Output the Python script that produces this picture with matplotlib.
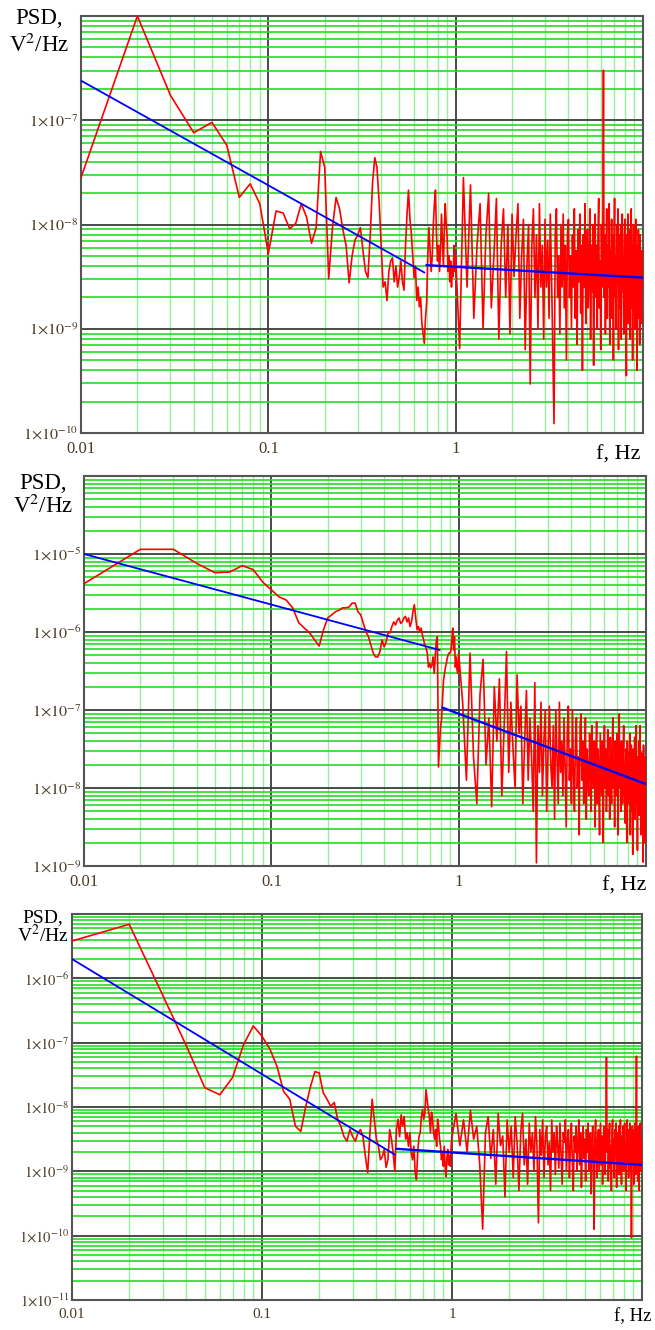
import numpy as np
import matplotlib
matplotlib.use("Agg")
import matplotlib.pyplot as plt
from matplotlib.ticker import FixedLocator, LogLocator, FuncFormatter, NullFormatter

plt.rcParams['font.family'] = ['Liberation Serif', 'DejaVu Serif']
plt.rcParams['mathtext.fontset'] = 'stix'

# frequency grid: 0.01..1.00 Hz step 0.01, then 1.05..10 Hz step 0.05
f_low = np.arange(1, 101) * 0.01
f_high = 1.0 + np.arange(1, 181) * 0.05

# log10(PSD), panel 1
p1_low = [-7.55, -6.00, -6.76, -7.12, -7.02, -7.24, -7.74, -7.61, -7.80, -8.28,
          -7.87, -7.89, -8.04, -7.99, -7.80, -7.93, -8.18, -8.03, -7.30, -7.45,
          -8.52, -8.03, -7.74, -7.85, -8.05, -8.20, -8.56, -8.30, -8.15, -8.10,
          -8.03, -8.25, -8.45, -8.51, -8.10, -7.60, -7.36, -7.45, -7.77, -8.20,
          -8.60, -8.55, -8.73, -8.45, -8.35, -8.32, -8.55, -8.40, -8.60, -8.50,
          -8.35, -8.55, -8.63, -8.20, -7.90, -7.67, -7.95, -8.09, -8.30, -8.51,
          -8.40, -8.73, -8.60, -8.79, -8.70, -8.95, -9.05, -9.14, -8.90, -8.75,
          -8.30, -8.03, -8.25, -8.45, -8.30, -8.00, -7.80, -7.67, -8.10, -8.35,
          -8.20, -8.45, -8.25, -7.90, -8.15, -8.40, -8.05, -7.80, -8.00, -8.10,
          -8.45, -8.30, -8.55, -8.35, -8.60, -8.40, -8.50, -8.20, -8.45, -8.30]
p1_high = [-9.19, -7.55, -8.60, -7.62, -8.90, -8.20, -7.80, -9.00, -8.10, -7.70,
           -8.80, -8.30, -7.75, -9.10, -8.20, -7.85, -8.70, -8.00, -9.05, -7.90,
           -8.50, -8.10, -7.80, -8.90, -8.30, -7.95, -9.20, -8.40, -8.00, -9.53,
           -8.20, -7.85, -8.70, -8.10, -9.00, -7.80, -8.60, -8.20, -9.10, -7.95,
           -8.60, -8.15, -8.90, -7.90, -8.50, -9.20, -9.91, -8.10, -7.85, -8.70,
           -8.30, -9.05, -8.00, -8.60, -7.90, -8.80, -8.20, -9.30, -8.10, -7.95,
           -8.70, -8.30, -9.00, -8.10, -8.60, -7.85, -8.90, -8.25, -9.15, -8.05,
           -8.55, -7.90, -8.85, -8.20, -9.40, -8.10, -8.60, -7.80, -8.95, -8.30,
           -8.05, -8.80, -8.40, -7.85, -9.10, -8.20, -8.65, -8.00, -9.35, -8.30,
           -7.90, -8.70, -8.20, -9.00, -8.10, -7.75, -8.80, -8.35, -9.20, -8.00,
           -8.60, -8.20, -6.52, -8.70, -8.10, -9.05, -8.30, -7.85, -8.90, -8.20,
           -8.60, -7.80, -9.15, -8.25, -8.55, -7.95, -8.90, -8.10, -9.30, -8.20,
           -7.75, -8.70, -8.30, -9.00, -8.00, -8.55, -7.85, -9.20, -8.35, -8.10,
           -8.80, -8.00, -9.10, -8.25, -7.90, -8.65, -8.40, -9.05, -8.15, -7.95,
           -8.85, -8.30, -9.45, -8.10, -8.60, -7.90, -8.95, -8.25, -8.55, -8.05,
           -9.10, -8.35, -7.85, -8.80, -8.20, -9.30, -8.40, -8.00, -8.75, -8.30,
           -9.00, -8.15, -7.95, -8.70, -8.35, -9.40, -8.20, -8.60, -8.05, -8.90,
           -8.30, -9.15, -8.10, -8.70, -8.40, -8.95, -8.25, -8.60, -8.45, -8.55]

# panel 2
p2_low = [-5.38, -4.94, -4.94, -5.12, -5.24, -5.23, -5.15, -5.20, -5.36, -5.46,
          -5.55, -5.59, -5.69, -5.88, -5.95, -6.01, -6.10, -6.18, -5.97, -5.82,
          -5.78, -5.74, -5.72, -5.69, -5.69, -5.68, -5.63, -5.63, -5.74, -5.78,
          -5.89, -6.00, -6.06, -6.17, -6.27, -6.32, -6.32, -6.25, -6.10, -6.19,
          -6.13, -6.01, -6.01, -5.93, -5.87, -5.91, -5.85, -5.82, -5.89, -5.87,
          -5.82, -5.80, -5.87, -5.82, -5.93, -5.87, -5.74, -5.65, -5.82, -5.97,
          -5.93, -6.00, -5.95, -6.04, -6.10, -6.17, -6.21, -6.27, -6.45, -6.40,
          -6.46, -6.42, -6.32, -6.53, -6.32, -6.10, -6.06, -7.73, -7.47, -7.22,
          -7.13, -6.87, -6.62, -6.53, -6.45, -6.40, -6.33, -6.29, -6.27, -6.27,
          -6.23, -6.10, -5.95, -6.23, -6.06, -6.45, -6.32, -6.49, -6.53, -6.27]
p2_high = [-6.90, -7.90, -6.27, -7.60, -8.20, -6.80, -6.35, -7.70, -7.10, -8.24,
           -6.70, -7.40, -6.60, -8.10, -7.20, -6.25, -7.80, -6.90, -7.50, -8.00,
           -6.55, -7.30, -6.95, -8.20, -7.40, -6.75, -7.90, -7.10, -7.60, -8.30,
           -6.65, -8.96, -7.20, -7.80, -6.90, -8.10, -7.40, -7.00, -8.30, -7.50,
           -6.95, -7.70, -8.00, -7.20, -8.40, -7.00, -7.60, -8.20, -6.90, -7.80,
           -7.40, -8.10, -7.10, -7.70, -8.50, -7.30, -6.95, -7.90, -7.50, -8.20,
           -7.00, -7.80, -8.30, -7.40, -7.10, -8.00, -7.60, -8.60, -7.20, -7.05,
           -7.90, -7.40, -8.20, -7.60, -7.10, -8.40, -7.50, -7.90, -8.10, -7.30,
           -7.70, -8.30, -7.20, -7.80, -8.00, -7.40, -8.50, -7.60, -7.15, -8.20,
           -7.50, -7.90, -8.60, -7.30, -7.70, -8.10, -7.40, -8.70, -7.60, -7.20,
           -8.00, -7.50, -8.30, -7.70, -7.25, -8.10, -7.60, -8.40, -7.35, -7.90,
           -8.20, -7.50, -7.10, -8.00, -7.70, -8.50, -7.40, -7.90, -8.10, -7.30,
           -7.80, -8.60, -7.50, -7.05, -8.00, -7.70, -8.30, -7.40, -7.90, -8.20,
           -7.60, -7.20, -8.10, -7.80, -8.45, -7.50, -7.95, -8.70, -7.40, -7.75,
           -8.20, -7.55, -8.00, -7.30, -8.60, -7.80, -7.45, -8.30, -7.90, -8.85,
           -7.50, -7.70, -8.10, -7.35, -8.40, -7.85, -7.20, -8.20, -7.60, -8.80,
           -7.70, -8.00, -7.40, -8.35, -7.80, -7.20, -8.10, -8.60, -7.55, -7.90,
           -8.40, -7.65, -8.95, -7.45, -8.10, -7.80, -8.70, -7.60, -8.30, -8.50]

# panel 3
p3_low = [-5.42, -5.16, -6.26, -7.05, -7.70, -7.81, -7.54, -7.03, -6.74, -6.90,
          -7.10, -7.37, -7.76, -7.88, -8.30, -8.38, -7.99, -7.68, -7.45, -7.47,
          -7.78, -7.88, -7.99, -7.93, -8.19, -8.30, -8.46, -8.53, -8.35, -8.46,
          -8.53, -8.40, -8.35, -8.46, -8.77, -9.02, -8.40, -7.88, -8.19, -8.50,
          -8.61, -8.82, -8.77, -8.66, -8.94, -8.82, -8.35, -8.50, -8.71, -9.00,
          -8.35, -8.19, -8.46, -8.12, -8.30, -8.15, -8.50, -8.40, -8.61, -8.40,
          -8.71, -8.82, -8.61, -9.02, -9.13, -8.71, -8.46, -8.40, -8.15, -8.04,
          -8.19, -8.08, -7.73, -7.88, -8.04, -8.15, -8.40, -8.08, -8.19, -8.40,
          -8.50, -8.35, -8.61, -8.19, -8.30, -8.50, -8.61, -8.82, -8.71, -8.92,
          -8.61, -8.92, -9.08, -8.80, -8.66, -8.90, -8.75, -8.92, -8.60, -8.46]
p3_high = [-8.10, -8.60, -8.20, -8.70, -8.05, -8.50, -8.30, -8.90, -9.90, -8.40,
           -8.15, -8.80, -8.35, -9.20, -8.10, -8.60, -8.45, -9.40, -8.20, -8.70,
           -8.30, -9.10, -8.15, -8.55, -9.30, -8.40, -8.10, -8.90, -8.50, -9.20,
           -8.25, -8.70, -8.40, -9.00, -8.15, -8.60, -9.80, -8.35, -8.75, -8.20,
           -9.10, -8.45, -8.30, -8.90, -8.55, -9.30, -8.20, -8.70, -8.40, -9.05,
           -8.30, -8.60, -8.95, -8.25, -8.75, -9.20, -8.40, -8.55, -8.20, -9.00,
           -8.50, -8.35, -9.10, -8.60, -8.25, -8.85, -9.30, -8.45, -8.70, -8.30,
           -9.00, -8.55, -8.20, -8.90, -8.40, -9.25, -8.60, -8.30, -8.80, -8.50,
           -9.15, -8.35, -8.70, -8.25, -9.00, -8.55, -8.40, -9.35, -8.60, -8.30,
           -8.85, -9.90, -8.45, -8.20, -8.75, -9.10, -8.50, -8.35, -9.00, -8.60,
           -8.25, -8.90, -8.45, -9.20, -8.60, -8.30, -8.80, -9.05, -8.40, -7.23,
           -8.70, -8.35, -9.15, -8.55, -8.25, -8.95, -8.60, -9.30, -8.40, -8.20,
           -8.85, -8.50, -9.10, -8.35, -8.70, -8.25, -9.25, -8.60, -8.40, -8.90,
           -8.30, -9.05, -8.55, -8.20, -8.80, -9.20, -8.45, -8.65, -8.30, -9.00,
           -8.50, -8.25, -8.95, -8.60, -9.30, -8.40, -8.20, -8.85, -8.55, -9.10,
           -8.35, -8.70, -8.25, -9.00, -8.60, -10.03, -8.40, -8.30, -8.90, -8.55,
           -9.20, -8.35, -8.65, -8.25, -9.05, -8.50, -7.21, -8.80, -8.40, -9.15,
           -8.30, -8.60, -9.30, -8.45, -8.75, -8.25, -9.00, -8.50, -8.70, -8.85]

# fitted lines (blue): two segments per panel, end points f and log10(PSD)
fit1_f = [[0.01, 0.68], [0.70, 10.0]]
fit1_v = [[-6.62, -8.46], [-8.39, -8.51]]
fit2_f = [[0.01, 0.79], [0.82, 10.0]]
fit2_v = [[-5.00, -6.23], [-6.97, -7.95]]
fit3_f = [[0.01, 0.50], [0.51, 10.0]]
fit3_v = [[-5.70, -8.74], [-8.65, -8.90]]

# y range as decade exponents; the top decade carries no label
ydec = [(-10, -6), (-9, -4), (-11, -5)]
xticks = [0.01, 0.1, 1]
xtick_labels = ['0.01', '0.1', '1']

# panel boxes in pixels: left, top, right, bottom
boxes = [(81, 16, 643, 433), (84, 476, 646, 866), (72, 914, 642, 1300)]
# label positions in pixels
psd_pos = [(39, 24, 52), (43, 489, 513), (43, 922, 942)]
fhz_pos = [(641, 460), (646, 891), (652, 1321)]
lab_size = [16.5, 16.5, 14]

W, H = 655, 1330
fig = plt.figure(figsize=(W / 100, H / 100), dpi=100)

panels = [(p1_low, p1_high, fit1_f, fit1_v),
          (p2_low, p2_high, fit2_f, fit2_v),
          (p3_low, p3_high, fit3_f, fit3_v)]

f_all = np.concatenate([f_low, f_high])
tick_col = '#4a3b28'

for i, (lo, hi, ff, fv) in enumerate(panels):
    l, t, r, b = boxes[i]
    ax = fig.add_axes([l / W, 1 - b / H, (r - l) / W, (b - t) / H])
    psd = 10.0 ** np.array(lo + hi)
    ax.plot(f_all, psd, color='#ff0000', lw=1.2, zorder=3)
    for k in range(2):
        ax.plot(ff[k], 10.0 ** np.array(fv[k]), color='#0000ff',
                lw=1.3 if k == 0 else 1.7, zorder=4)

    e0, e1 = ydec[i]
    ax.set_xscale('log')
    ax.set_yscale('log')
    ax.set_xlim(0.01, 10)
    ax.set_ylim(10.0 ** e0, 10.0 ** e1)

    # major grid at decades (10 Hz and top decade are on the frame)
    ax.set_xticks(xticks, xtick_labels)
    ax.xaxis.set_minor_locator(LogLocator(base=10, subs=np.arange(2, 10), numticks=50))
    ax.xaxis.set_minor_formatter(NullFormatter())
    ydecs = list(range(e0, e1))
    ax.set_yticks([10.0 ** e for e in ydecs],
                  [r'$1{\times}10^{%d}$' % e for e in ydecs])
    ax.yaxis.set_minor_locator(LogLocator(base=10, subs=np.arange(2, 10), numticks=50))
    ax.yaxis.set_minor_formatter(NullFormatter())

    ax.set_axisbelow(True)
    ax.grid(which='minor', axis='y', color='#22dd22', lw=1.2)
    ax.grid(which='minor', axis='x', color='#99ee99', lw=1.0)
    ax.grid(which='major', color='#3c3c3c', lw=1.3)

    ax.tick_params(which='both', length=0)
    ax.tick_params(axis='y', labelsize=11.5 if i < 2 else 10.5, labelcolor=tick_col, pad=2)
    ax.tick_params(axis='x', labelsize=12 if i < 2 else 11, labelcolor=tick_col, pad=6)
    for s in ax.spines.values():
        s.set_color('#555555')
        s.set_linewidth(1.5)

    px, y1, y2 = psd_pos[i]
    fig.text(px / W, 1 - y1 / H, 'PSD,', ha='center', va='baseline', fontsize=lab_size[i])
    fig.text(px / W, 1 - y2 / H, r'V$^2$/Hz', ha='center', va='baseline', fontsize=lab_size[i])
    fx, fy = fhz_pos[i]
    fig.text(fx / W, 1 - fy / H, 'f, Hz', ha='right', va='baseline', fontsize=lab_size[i] - 0.5)

fig.savefig('out.png', dpi=100)
